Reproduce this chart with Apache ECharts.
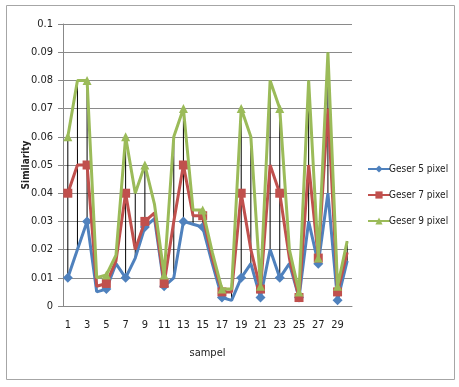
<!DOCTYPE html>
<html>
<head>
<meta charset="utf-8">
<script src="https://cdn.jsdelivr.net/npm/echarts@6/dist/echarts.min.js"></script>
<style>
html,body{margin:0;padding:0;background:#fff;}
#c{width:459px;height:387px;}
</style>
</head>
<body>
<div id="c"></div>
<script>
const categories = ['1','2','3','4','5','6','7','8','9','10','11','12','13','14','15','16','17','18','19','20','21','22','23','24','25','26','27','28','29','30'];
const geser5 = [0.01,0.02,0.03,0.005,0.006,0.015,0.01,0.017,0.028,0.031,0.007,0.01,0.03,0.029,0.028,0.015,0.003,0.002,0.01,0.015,0.003,0.02,0.01,0.015,0.003,0.03,0.015,0.04,0.002,0.016];
const geser7 = [0.04,0.05,0.05,0.007,0.008,0.016,0.04,0.02,0.03,0.033,0.008,0.03,0.05,0.032,0.032,0.017,0.005,0.005,0.04,0.02,0.006,0.05,0.04,0.017,0.003,0.05,0.017,0.07,0.005,0.019];
const geser9 = [0.06,0.08,0.08,0.01,0.011,0.018,0.06,0.04,0.05,0.036,0.011,0.06,0.07,0.034,0.034,0.019,0.006,0.006,0.07,0.06,0.007,0.08,0.07,0.02,0.005,0.08,0.017,0.09,0.007,0.023];
const seriesNames = ['Geser 5 pixel','Geser 7 pixel','Geser 9 pixel'];
const yTicks = [0,0.01,0.02,0.03,0.04,0.05,0.06,0.07,0.08,0.09,0.1];

const hiLo = categories.map((c,i)=>{
  const v=[geser5[i],geser7[i],geser9[i]];
  return [i, Math.min.apply(null,v), Math.max.apply(null,v)];
});

const FONT = "'DejaVu Sans Condensed','Liberation Sans',sans-serif";
const chart = echarts.init(document.getElementById('c'));
chart.setOption({
  animation:false,
  backgroundColor:'#fff',
  graphic:[{type:'rect',shape:{x:6.5,y:5.5,width:448,height:374},style:{fill:'none',stroke:'#a6a6a6',lineWidth:1},z:-10}],
  grid:{left:63,right:107,top:24,bottom:81},
  legend:{
    orient:'vertical',left:362,top:159,itemGap:16,itemWidth:22,itemHeight:9,
    textStyle:{fontFamily:FONT,fontSize:10,color:'#222',padding:[0,0,0,-6]},
    data:seriesNames
  },
  xAxis:{
    type:'category',data:categories,boundaryGap:true,
    name:'sampel',nameLocation:'middle',nameGap:42,nameMoveOverlap:false,
    nameTextStyle:{fontFamily:FONT,fontSize:11,color:'#222'},
    axisLine:{lineStyle:{color:'#888',width:1}},
    axisTick:{show:false},
    axisLabel:{interval:1,margin:14,fontFamily:FONT,fontSize:11,color:'#222'}
  },
  yAxis:{
    type:'value',min:0,max:0.1,interval:0.01,
    name:'Similarity',nameLocation:'middle',nameGap:32,nameRotate:90,nameMoveOverlap:false,
    nameTextStyle:{fontFamily:FONT,fontSize:10,fontWeight:'bold',color:'#222'},
    axisLine:{show:true,lineStyle:{color:'#888',width:1}},
    axisTick:{show:true,length:5,lineStyle:{color:'#888'}},
    splitLine:{lineStyle:{color:'#8a8a8a',width:1}},
    axisLabel:{margin:10,fontFamily:FONT,fontSize:11,color:'#222',
      formatter:v=>{const t=yTicks.find(x=>Math.abs(x-v)<1e-9);return String(+(t!==undefined?t:v).toFixed(2));}}
  },
  series:[
    {
      type:'custom',name:'hilo',silent:true,z:1,
      renderItem:(params,api)=>{
        const x=api.value(0);
        const p1=api.coord([x,api.value(1)]);
        const p2=api.coord([x,api.value(2)]);
        return {type:'line',shape:{x1:p1[0],y1:p1[1],x2:p2[0],y2:p2[1]},style:{stroke:'#000',lineWidth:1}};
      },
      encode:{x:0,y:[1,2]},
      data:hiLo
    },
    {name:seriesNames[0],type:'line',data:geser5,z:2,symbol:'diamond',symbolSize:10,
      lineStyle:{color:'#4F81BD',width:3},itemStyle:{color:'#4F81BD'}},
    {name:seriesNames[1],type:'line',data:geser7,z:3,symbol:'rect',symbolSize:9,
      lineStyle:{color:'#C0504D',width:3},itemStyle:{color:'#C0504D'}},
    {name:seriesNames[2],type:'line',data:geser9,z:4,symbol:'triangle',symbolSize:9,
      lineStyle:{color:'#9BBB59',width:3},itemStyle:{color:'#9BBB59'}}
  ]
});
</script>
</body>
</html>
